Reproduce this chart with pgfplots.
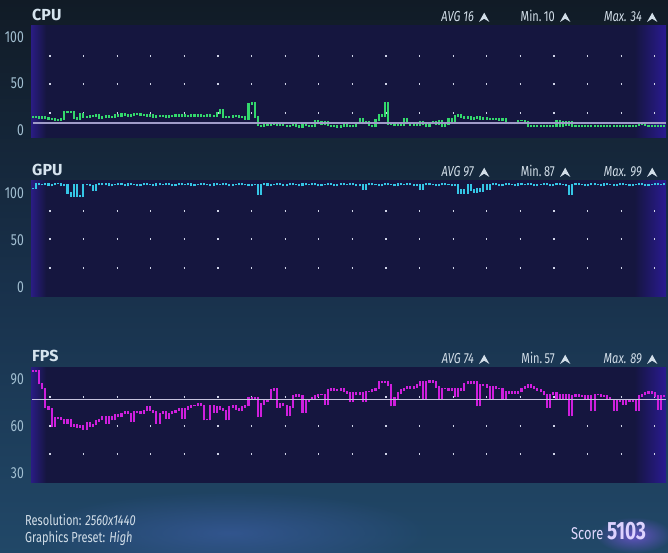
\documentclass[border=0pt]{standalone}
\usepackage{pgfplots}
\pgfplotsset{compat=1.18}
\usepackage{pgfplotstable}
\usepackage{fontspec}
\setmainfont{Fira Sans}[FakeStretch=0.76]
\newfontfamily\titlefont{Fira Sans}
\usetikzlibrary{fadings}
\tikzfading[name=glowfade, inner color=transparent!0, outer color=transparent!100]

\definecolor{bgtop}{HTML}{111B26}
\definecolor{bgmid}{HTML}{18304A}
\definecolor{bgbot}{HTML}{214868}
\definecolor{pL}{HTML}{2A1C84}
\definecolor{pM}{HTML}{15163F}
\definecolor{pR}{HTML}{2A1A92}
\definecolor{cpuc}{HTML}{33D86C}
\definecolor{gpuc}{HTML}{35C6E6}
\definecolor{fpsc}{HTML}{CF1FDD}
\definecolor{avgc}{HTML}{A09CC8}
\definecolor{dotc}{HTML}{D0D4E8}
\definecolor{tickc}{HTML}{A3C0D2}
\definecolor{titlec}{HTML}{D6E4EE}
\definecolor{statc}{HTML}{D2DEE8}
\definecolor{scorec}{HTML}{DDD2FF}
\definecolor{glowc}{HTML}{3E5FA8}
\definecolor{scoreglow}{HTML}{7A58E0}

\pgfdeclarehorizontalshading{panelshade}{100bp}{color(0bp)=(pL); color(25bp)=(pL); color(26.2bp)=(pM); color(72.5bp)=(pM); color(75bp)=(pR); color(100bp)=(pR)}

% ---------- data (one value per sample) ----------
\pgfplotstableread[row sep=\\]{
v\\
14\\ 14\\ 13\\ 14\\ 13\\ 12\\ 12\\ 11\\ 11\\ 12\\
20\\ 19\\ 20\\ 13\\ 12\\ 17\\ 14\\ 14\\ 15\\ 15\\
16\\ 13\\ 14\\ 15\\ 14\\ 14\\ 16\\ 15\\ 17\\ 16\\
15\\ 16\\ 17\\ 17\\ 16\\ 16\\ 15\\ 16\\ 14\\ 15\\
15\\ 15\\ 14\\ 15\\ 15\\ 16\\ 15\\ 16\\ 15\\ 15\\
16\\ 15\\ 16\\ 15\\ 15\\ 16\\ 15\\ 15\\ 18\\ 22\\
14\\ 14\\ 14\\ 15\\ 15\\ 14\\ 14\\ 12\\ 28\\ 29\\
14\\ 5\\ 4\\ 6\\ 5\\ 6\\ 7\\ 5\\ 6\\ 5\\
4\\ 5\\ 6\\ 4\\ 3\\ 7\\ 5\\ 4\\ 4\\ 10\\
9\\ 6\\ 9\\ 5\\ 4\\ 5\\ 3\\ 4\\ 8\\ 4\\
5\\ 4\\ 7\\ 12\\ 7\\ 9\\ 5\\ 4\\ 11\\ 16\\
15\\ 29\\ 6\\ 6\\ 5\\ 8\\ 5\\ 12\\ 7\\ 5\\
8\\ 5\\ 9\\ 6\\ 4\\ 7\\ 9\\ 6\\ 10\\ 4\\
6\\ 12\\ 9\\ 15\\ 16\\ 14\\ 13\\ 14\\ 12\\ 13\\
14\\ 12\\ 13\\ 12\\ 12\\ 12\\ 12\\ 11\\ 12\\ 8\\
7\\ 7\\ 7\\ 10\\ 10\\ 9\\ 4\\ 4\\ 4\\ 4\\
4\\ 4\\ 5\\ 4\\ 4\\ 10\\ 4\\ 9\\ 5\\ 9\\
4\\ 4\\ 4\\ 4\\ 4\\ 5\\ 4\\ 4\\ 5\\ 4\\
4\\ 4\\ 5\\ 4\\ 4\\ 4\\ 5\\ 4\\ 4\\ 4\\
5\\ 7\\ 6\\ 5\\ 4\\ 4\\ 4\\ 4\\ 4\\ 4\\
}\cpudata

\pgfplotstableread[row sep=\\]{
v\\
105\\ 110\\ 109\\ 109\\ 110\\ 108\\ 109\\ 110\\ 110\\ 108\\
109\\ 100\\ 97\\ 109\\ 97\\ 97\\ 109\\ 109\\ 108\\ 103\\
109\\ 110\\ 109\\ 110\\ 108\\ 109\\ 109\\ 110\\ 109\\ 108\\
110\\ 109\\ 109\\ 108\\ 109\\ 110\\ 109\\ 109\\ 108\\ 110\\
109\\ 109\\ 110\\ 109\\ 108\\ 109\\ 110\\ 109\\ 109\\ 110\\
108\\ 109\\ 109\\ 110\\ 109\\ 109\\ 108\\ 110\\ 109\\ 109\\
110\\ 109\\ 108\\ 109\\ 109\\ 110\\ 109\\ 109\\ 108\\ 109\\
109\\ 99\\ 109\\ 110\\ 108\\ 109\\ 109\\ 110\\ 109\\ 108\\
109\\ 110\\ 109\\ 109\\ 108\\ 110\\ 109\\ 109\\ 110\\ 109\\
108\\ 109\\ 109\\ 110\\ 109\\ 108\\ 109\\ 110\\ 109\\ 109\\
110\\ 109\\ 108\\ 109\\ 104\\ 109\\ 110\\ 109\\ 109\\ 108\\
109\\ 110\\ 109\\ 109\\ 108\\ 110\\ 109\\ 109\\ 110\\ 109\\
108\\ 109\\ 104\\ 109\\ 110\\ 109\\ 109\\ 108\\ 109\\ 110\\
109\\ 109\\ 108\\ 109\\ 100\\ 103\\ 100\\ 109\\ 103\\ 101\\
104\\ 102\\ 109\\ 104\\ 109\\ 110\\ 109\\ 108\\ 109\\ 110\\
109\\ 109\\ 108\\ 110\\ 109\\ 109\\ 110\\ 109\\ 108\\ 109\\
109\\ 110\\ 109\\ 108\\ 109\\ 110\\ 109\\ 109\\ 108\\ 99\\
109\\ 110\\ 109\\ 109\\ 108\\ 109\\ 110\\ 109\\ 109\\ 108\\
110\\ 109\\ 109\\ 108\\ 109\\ 110\\ 109\\ 109\\ 108\\ 109\\
109\\ 110\\ 109\\ 108\\ 109\\ 109\\ 110\\ 109\\ 109\\ 110\\
}\gpudata

\pgfplotstableread[row sep=\\]{
v\\
95\\ 95\\ 87\\ 84\\ 72\\ 71\\ 60\\ 65\\ 65\\ 64\\
62\\ 64\\ 60\\ 61\\ 59\\ 60\\ 58\\ 62\\ 60\\ 61\\
63\\ 64\\ 66\\ 62\\ 66\\ 64\\ 67\\ 66\\ 68\\ 69\\
68\\ 63\\ 69\\ 69\\ 68\\ 70\\ 72\\ 70\\ 69\\ 62\\
68\\ 69\\ 65\\ 68\\ 69\\ 70\\ 71\\ 65\\ 71\\ 72\\
73\\ 73\\ 74\\ 73\\ 64\\ 64\\ 73\\ 69\\ 72\\ 71\\
70\\ 64\\ 72\\ 73\\ 71\\ 70\\ 72\\ 73\\ 78\\ 77\\
78\\ 66\\ 74\\ 76\\ 77\\ 83\\ 84\\ 72\\ 74\\ 73\\
67\\ 72\\ 79\\ 80\\ 79\\ 69\\ 76\\ 77\\ 78\\ 79\\
80\\ 80\\ 74\\ 83\\ 84\\ 83\\ 83\\ 84\\ 82\\ 81\\
76\\ 81\\ 80\\ 81\\ 76\\ 82\\ 82\\ 83\\ 84\\ 88\\
88\\ 88\\ 86\\ 73\\ 78\\ 81\\ 83\\ 84\\ 85\\ 84\\
85\\ 86\\ 88\\ 78\\ 88\\ 89\\ 88\\ 85\\ 77\\ 84\\
84\\ 83\\ 84\\ 79\\ 84\\ 83\\ 87\\ 88\\ 87\\ 88\\
73\\ 86\\ 86\\ 85\\ 78\\ 85\\ 84\\ 84\\ 77\\ 82\\
81\\ 82\\ 81\\ 82\\ 84\\ 85\\ 86\\ 85\\ 84\\ 83\\
82\\ 80\\ 72\\ 80\\ 81\\ 77\\ 80\\ 78\\ 80\\ 67\\
79\\ 80\\ 79\\ 79\\ 78\\ 79\\ 70\\ 80\\ 80\\ 79\\
79\\ 78\\ 77\\ 70\\ 77\\ 76\\ 74\\ 77\\ 76\\ 77\\
70\\ 79\\ 80\\ 81\\ 82\\ 81\\ 79\\ 71\\ 79\\ 79\\
}\fpsdata

% each sample is drawn as a segment from the previous value to its own value
\newcommand\addbarcols[2]{%
  \pgfplotstablegetelem{0}{v}\of#1%
  \xdef\lastv{\pgfplotsretval}%
  \pgfplotstablecreatecol[create col/assign/.code={%
      \getthisrow{v}\cur
      \pgfmathsetmacro\tmp{min(\cur,\lastv)-#2}%
      \xdef\lastv{\cur}%
      \pgfkeyslet{/pgfplots/table/create col/next content}\tmp
    }]{lo}#1%
  \pgfplotstablegetelem{0}{v}\of#1%
  \xdef\lastv{\pgfplotsretval}%
  \pgfplotstablecreatecol[create col/assign/.code={%
      \getthisrow{v}\cur
      \pgfmathsetmacro\tmp{abs(\cur-\lastv)+2*#2}%
      \xdef\lastv{\cur}%
      \pgfkeyslet{/pgfplots/table/create col/next content}\tmp
    }]{len}#1%
}
\addbarcols{\cpudata}{0.85}
\addbarcols{\gpudata}{0.85}
\addbarcols{\fpsdata}{0.5}

\pgfplotsset{panel/.style={
  scale only axis, width=635pt, xmin=-0.5, xmax=199.5,
  axis line style={draw=none}, major tick length=0pt, minor tick length=0pt,
  tick style={draw=none},
  xtick=\empty,
  axis background/.style={shade, shading=panelshade},
  /pgf/number format/assume math mode=true,
  yticklabel style={font=\fontsize{16}{16}\selectfont, text=tickc, anchor=east, inner sep=0pt, xshift=-7pt},
  yminorgrids,
  minor grid style={draw=dotc, line width=1.3pt, dash pattern=on 1.3pt off 32.3pt, dash phase=15.3pt},
}}

\newcommand\arrowglyph[2]{\fill[statc] (#1,#2) -- (#1+5.2,#2+9.3) -- (#1+10.4,#2) -- (#1+5.2,#2+3.3) -- cycle;}
\newcommand\stats[4]{%
  \node[anchor=base east, inner sep=0pt, text=statc, font=\fontsize{14.5}{15}\selectfont\itshape] at (474,#1) {AVG #2};
  \node[anchor=base east, inner sep=0pt, text=statc, font=\fontsize{14.5}{15}\selectfont] at (555,#1) {Min.\,#3};
  \node[anchor=base east, inner sep=0pt, text=statc, font=\fontsize{14.5}{15}\selectfont\itshape] at (642,#1) {Max. #4};
  \arrowglyph{479}{#1}\arrowglyph{560}{#1}\arrowglyph{647}{#1}%
}

\begin{document}
\begin{tikzpicture}[x=1pt,y=1pt]
\useasboundingbox (0,0) rectangle (668,553);
\fill[top color=bgtop, bottom color=bgbot, middle color=bgmid] (0,0) rectangle (668,553);
\fill[glowc, path fading=glowfade, opacity=0.6] (230,20) ellipse [x radius=200, y radius=42];
\fill[scoreglow, path fading=glowfade, opacity=0.75] (634,18) ellipse [x radius=38, y radius=18];

% CPU
\begin{axis}[panel, at={(31pt,415pt)}, anchor=south west, height=112pt,
  ymin=-8.6, ymax=111.8, ytick={0,50,100}, minor ytick={18.3,49.5,79.6}]
\addplot[cpuc, line width=2.1pt, -, quiver={u=0, v=\thisrow{len}}] table[x expr=\coordindex, y=lo] {\cpudata};
\addplot[avgc, line width=1.6pt] coordinates {(0.1,7.8) (199.5,7.8)};
\end{axis}

% GPU
\begin{axis}[panel, at={(31pt,256pt)}, anchor=south west, height=116pt,
  ymin=-10.6, ymax=112.8, ytick={0,50,100}, minor ytick={20.2,51.1,80.9}]
\addplot[gpuc, line width=2.1pt, -, quiver={u=0, v=\thisrow{len}}] table[x expr=\coordindex, y=lo] {\gpudata};
\end{axis}

% FPS
\begin{axis}[panel, at={(31pt,70pt)}, anchor=south west, height=115pt,
  ymin=23.6, ymax=97, ytick={30,60,90}, minor ytick={42.1,60,78.5}]
\addplot[fpsc, line width=2.1pt, -, quiver={u=0, v=\thisrow{len}}] table[x expr=\coordindex, y=lo] {\fpsdata};
\addplot[avgc!60!white, line width=1.1pt] coordinates {(-0.2,77) (199.5,77)};
\end{axis}

% titles
\node[anchor=base west, inner sep=0pt, text=titlec, font=\titlefont\bfseries\fontsize{16}{16}\selectfont] at (32,532.3) {CPU};
\node[anchor=base west, inner sep=0pt, text=titlec, font=\titlefont\bfseries\fontsize{16}{16}\selectfont] at (32,377) {GPU};
\node[anchor=base west, inner sep=0pt, text=titlec, font=\titlefont\bfseries\fontsize{16}{16}\selectfont] at (32,191.3) {FPS};

\stats{531}{16}{10}{34}
\stats{376}{97}{87}{99}
\stats{189}{74}{57}{89}

% footer
\node[anchor=base west, inner sep=0pt, text=statc, font=\fontsize{14.5}{15}\selectfont] at (25,27) {Resolution: \textit{2560x1440}};
\node[anchor=base west, inner sep=0pt, text=statc, font=\fontsize{14.5}{15}\selectfont] at (25,10) {Graphics Preset: \textit{High}};
\node[anchor=base east, inner sep=0pt, text=scorec!85!white, font=\fontsize{17}{17}\selectfont] at (603.5,13.7) {Score};
\node[anchor=base west, inner sep=0pt, text=scorec, font=\fontsize{25}{25}\selectfont\bfseries] at (607,13) {5103};
\end{tikzpicture}
\end{document}
